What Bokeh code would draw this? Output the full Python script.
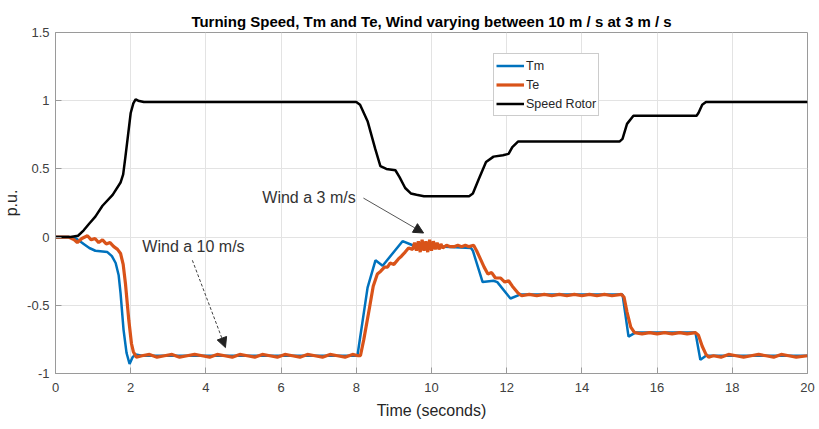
from bokeh.plotting import figure
from bokeh.models import Range1d, FixedTicker, Label, Arrow, NormalHead, Legend, LegendItem
from bokeh.embed import file_html
from bokeh.resources import INLINE

# Rotor speed (p.u.) versus time (s)
speed_t = [0, 0.4, 0.6, 0.75, 0.9, 1.06, 1.25, 1.52, 1.73, 1.8, 1.86, 1.93, 2.0, 2.07, 2.13, 2.2, 2.35,
           3.0, 8.0, 8.1, 8.3, 8.5, 8.64, 8.8, 9.04, 9.15, 9.3, 9.45, 9.6, 9.8, 11.0, 11.1, 11.25,
           11.45, 11.65, 11.9, 12.05, 12.15, 12.3, 12.5, 15.0, 15.08, 15.2, 15.37, 15.5, 17.05,
           17.1, 17.2, 17.3, 17.4, 20.0]
speed_v = [0, 0, 0.01, 0.05, 0.1, 0.15, 0.23, 0.31, 0.40, 0.46, 0.59, 0.75, 0.91, 0.98, 1.01, 1.0, 0.99,
           0.99, 0.99, 0.97, 0.85, 0.65, 0.52, 0.50, 0.49, 0.44, 0.36, 0.32, 0.31, 0.30, 0.30, 0.32, 0.42,
           0.55, 0.59, 0.60, 0.61, 0.66, 0.70, 0.70, 0.70, 0.72, 0.83, 0.89, 0.89, 0.89,
           0.91, 0.97, 0.99, 0.99, 0.99]

# Mechanical torque Tm (p.u.)
tm_t = [0, 0.35, 0.55, 0.75, 0.9, 1.06, 1.38, 1.5, 1.6, 1.68, 1.73, 1.81, 1.89, 1.97, 2.05, 2.13, 2.3,
        8.03, 8.3, 8.51, 8.7, 9.23, 9.5, 11.05, 11.1, 11.36, 11.65, 11.75, 12.1, 12.37, 15.08, 15.24,
        15.42, 17.02, 17.15, 17.3, 20.0]
tm_v = [0, 0, -0.01, -0.05, -0.08, -0.10, -0.11, -0.14, -0.19, -0.28, -0.41, -0.68, -0.85, -0.93, -0.88,
        -0.86, -0.87, -0.87, -0.37, -0.17, -0.21, -0.03, -0.06, -0.08, -0.10, -0.33, -0.32, -0.33, -0.45,
        -0.42, -0.42, -0.73, -0.70, -0.70, -0.90, -0.87, -0.87]

# Electromagnetic torque Te (p.u.), sampled with its ripple
te_t = [0, 0.35, 0.5, 0.58, 0.7, 0.85, 0.95, 1.05, 1.15, 1.25, 1.35, 1.45, 1.55, 1.65, 1.73, 1.8, 1.86,
        1.95, 2.02, 2.07, 2.15, 2.3, 2.5, 2.7, 2.9, 3.1, 3.3, 3.5, 3.7, 3.9, 4.1, 4.3, 4.5, 4.7, 4.9,
        5.1, 5.3, 5.5, 5.7, 5.9, 6.1, 6.3, 6.5, 6.7, 6.9, 7.1, 7.3, 7.5, 7.7, 7.9, 8.05, 8.11,
        8.2, 8.35, 8.45, 8.56, 8.65, 8.75, 8.83, 8.9, 9.0, 9.12, 9.2, 9.3, 9.39, 9.5,
        9.55, 9.6, 9.65, 9.7, 9.75, 9.8, 9.85, 9.9, 9.95, 10.0, 10.05, 10.1, 10.15, 10.2, 10.25, 10.3,
        10.4, 10.5, 10.6, 10.7, 10.8, 10.9, 11.0, 11.12, 11.2, 11.3, 11.4, 11.5, 11.6, 11.7, 11.84,
        11.95, 12.05, 12.15, 12.3, 12.4, 12.6, 12.8, 13.0, 13.2, 13.4, 13.6, 13.8, 14.0, 14.2, 14.4,
        14.6, 14.8, 15.05, 15.12, 15.2, 15.3, 15.4, 15.6, 15.8, 16.0, 16.2, 16.4, 16.6, 16.8, 17.02,
        17.1, 17.2, 17.3, 17.37, 17.5, 17.7, 17.9, 18.1, 18.3, 18.5, 18.7, 18.9, 19.1, 19.3, 19.5,
        19.7, 20.0]
te_v = [0, 0, -0.02, -0.04, -0.01, 0.01, -0.02, -0.01, -0.04, -0.02, -0.05, -0.04, -0.07, -0.09, -0.12,
        -0.2, -0.34, -0.61, -0.78, -0.84, -0.88, -0.87, -0.86, -0.88, -0.87, -0.86, -0.88, -0.87, -0.86,
        -0.87, -0.88, -0.86, -0.87, -0.88, -0.86, -0.87, -0.88, -0.86, -0.87, -0.88, -0.86, -0.87, -0.88,
        -0.86, -0.87, -0.88, -0.86, -0.87, -0.88, -0.86, -0.87, -0.87,
        -0.75, -0.52, -0.36, -0.27, -0.25, -0.22, -0.22, -0.19, -0.20, -0.16, -0.14, -0.11, -0.08, -0.09,
        -0.04, -0.10, -0.03, -0.11, -0.02, -0.10, -0.03, -0.11, -0.02, -0.10, -0.03, -0.09, -0.04, -0.09,
        -0.05, -0.08, -0.06, -0.07, -0.07, -0.06, -0.07, -0.06, -0.07, -0.06, -0.10, -0.16, -0.22, -0.27,
        -0.26, -0.30, -0.30, -0.33, -0.32, -0.36, -0.41, -0.43, -0.42, -0.43, -0.42, -0.43, -0.42, -0.43,
        -0.42, -0.43, -0.42, -0.43, -0.42, -0.43, -0.42, -0.44, -0.55, -0.66, -0.70, -0.71, -0.70, -0.71,
        -0.70, -0.71, -0.70, -0.71, -0.70, -0.72, -0.80, -0.86, -0.88, -0.87, -0.88, -0.86, -0.87, -0.88,
        -0.87, -0.86, -0.87, -0.88, -0.86, -0.87, -0.88, -0.87]

x_ticks = [0, 2, 4, 6, 8, 10, 12, 14, 16, 18, 20]
y_ticks = [-1, -0.5, 0, 0.5, 1, 1.5]
y_tick_labels = {-1: "-1", -0.5: "-0.5", 0: "0", 0.5: "0.5", 1: "1", 1.5: "1.5"}

FONT = "Liberation Sans"
AX_GRAY = "#262626"

p = figure(width=819, height=429, output_backend="svg", toolbar_location=None,
           x_range=Range1d(0, 20), y_range=Range1d(-1, 1.5),
           min_border_left=55, min_border_right=12, min_border_top=32, min_border_bottom=56,
           background_fill_color="white", border_fill_color="white")

p.title.text = "Turning Speed, Tm and Te, Wind varying between 10 m / s at 3 m / s"
p.title.align = "center"
p.title.vertical_align = "middle"
p.title.text_font = FONT
p.title.text_font_size = "15px"
p.title.text_font_style = "bold"
p.title.text_color = "black"
p.title.offset = 0
p.title.standoff = 4

p.outline_line_color = "#9a9a9a"
p.outline_line_width = 1
p.outline_line_alpha = 1

p.xaxis.ticker = FixedTicker(ticks=x_ticks)
p.yaxis.ticker = FixedTicker(ticks=y_ticks)
p.yaxis.major_label_overrides = y_tick_labels
for ax in (p.xaxis[0], p.yaxis[0]):
    ax.major_tick_in = 6
    ax.major_tick_out = 0
    ax.minor_tick_in = 0
    ax.minor_tick_out = 0
    ax.axis_line_color = "#9a9a9a"
    ax.major_tick_line_color = "#9a9a9a"
    ax.major_label_text_font = FONT
    ax.major_label_text_font_size = "13px"
    ax.major_label_text_color = "#404040"
    ax.axis_label_text_font = FONT
    ax.axis_label_text_font_size = "16px"
    ax.axis_label_text_font_style = "normal"
    ax.axis_label_text_color = AX_GRAY
p.xaxis.axis_label = "Time (seconds)"
p.yaxis.axis_label = "p.u."
p.xaxis.major_label_standoff = 9
p.xaxis.axis_label_standoff = 7
p.yaxis.major_label_standoff = 6
p.yaxis.axis_label_standoff = 4

p.xgrid.grid_line_color = "#e3e3e3"
p.ygrid.grid_line_color = "#e3e3e3"
p.xgrid.grid_line_width = 1
p.ygrid.grid_line_width = 1

r_tm = p.line(tm_t, tm_v, line_color="#0072BD", line_width=2.5)
r_te = p.line(te_t, te_v, line_color="#D95319", line_width=3.2)
r_sp = p.line(speed_t, speed_v, line_color="black", line_width=2.5)

legend = Legend(items=[LegendItem(label="Tm", renderers=[r_tm]),
                       LegendItem(label="Te", renderers=[r_te]),
                       LegendItem(label="Speed Rotor", renderers=[r_sp])],
                location=(438, 257), orientation="vertical")
legend.padding = 2
legend.spacing = 0
legend.margin = 0
legend.glyph_width = 28
legend.glyph_height = 19
legend.label_height = 19
legend.label_standoff = 2
legend.label_text_font = FONT
legend.label_text_font_size = "12.5px"
legend.label_text_color = AX_GRAY
legend.border_line_color = "#9a9a9a"
legend.border_line_width = 1
legend.background_fill_color = "white"
legend.background_fill_alpha = 1
p.add_layout(legend, "center")

# Wind annotations
p.add_layout(Label(x=2.31, y=-0.066, text="Wind a 10 m/s", text_font=FONT, text_font_size="16px",
                   text_color="#333333", text_baseline="middle", text_align="left"))
p.add_layout(Arrow(end=NormalHead(size=10, fill_color="#222222", line_color="#222222"),
                   x_start=3.64, y_start=-0.17, x_end=4.52, y_end=-0.81,
                   line_color="#404040", line_width=1, line_dash="3 2"))
p.add_layout(Label(x=5.5, y=0.29, text="Wind a 3 m/s", text_font=FONT, text_font_size="16px",
                   text_color="#333333", text_baseline="middle", text_align="left"))
p.add_layout(Arrow(end=NormalHead(size=10, fill_color="#222222", line_color="#222222"),
                   x_start=8.19, y_start=0.286, x_end=9.79, y_end=0.03,
                   line_color="#555555", line_width=1))

open("out.html", "w").write(file_html(p, INLINE))
